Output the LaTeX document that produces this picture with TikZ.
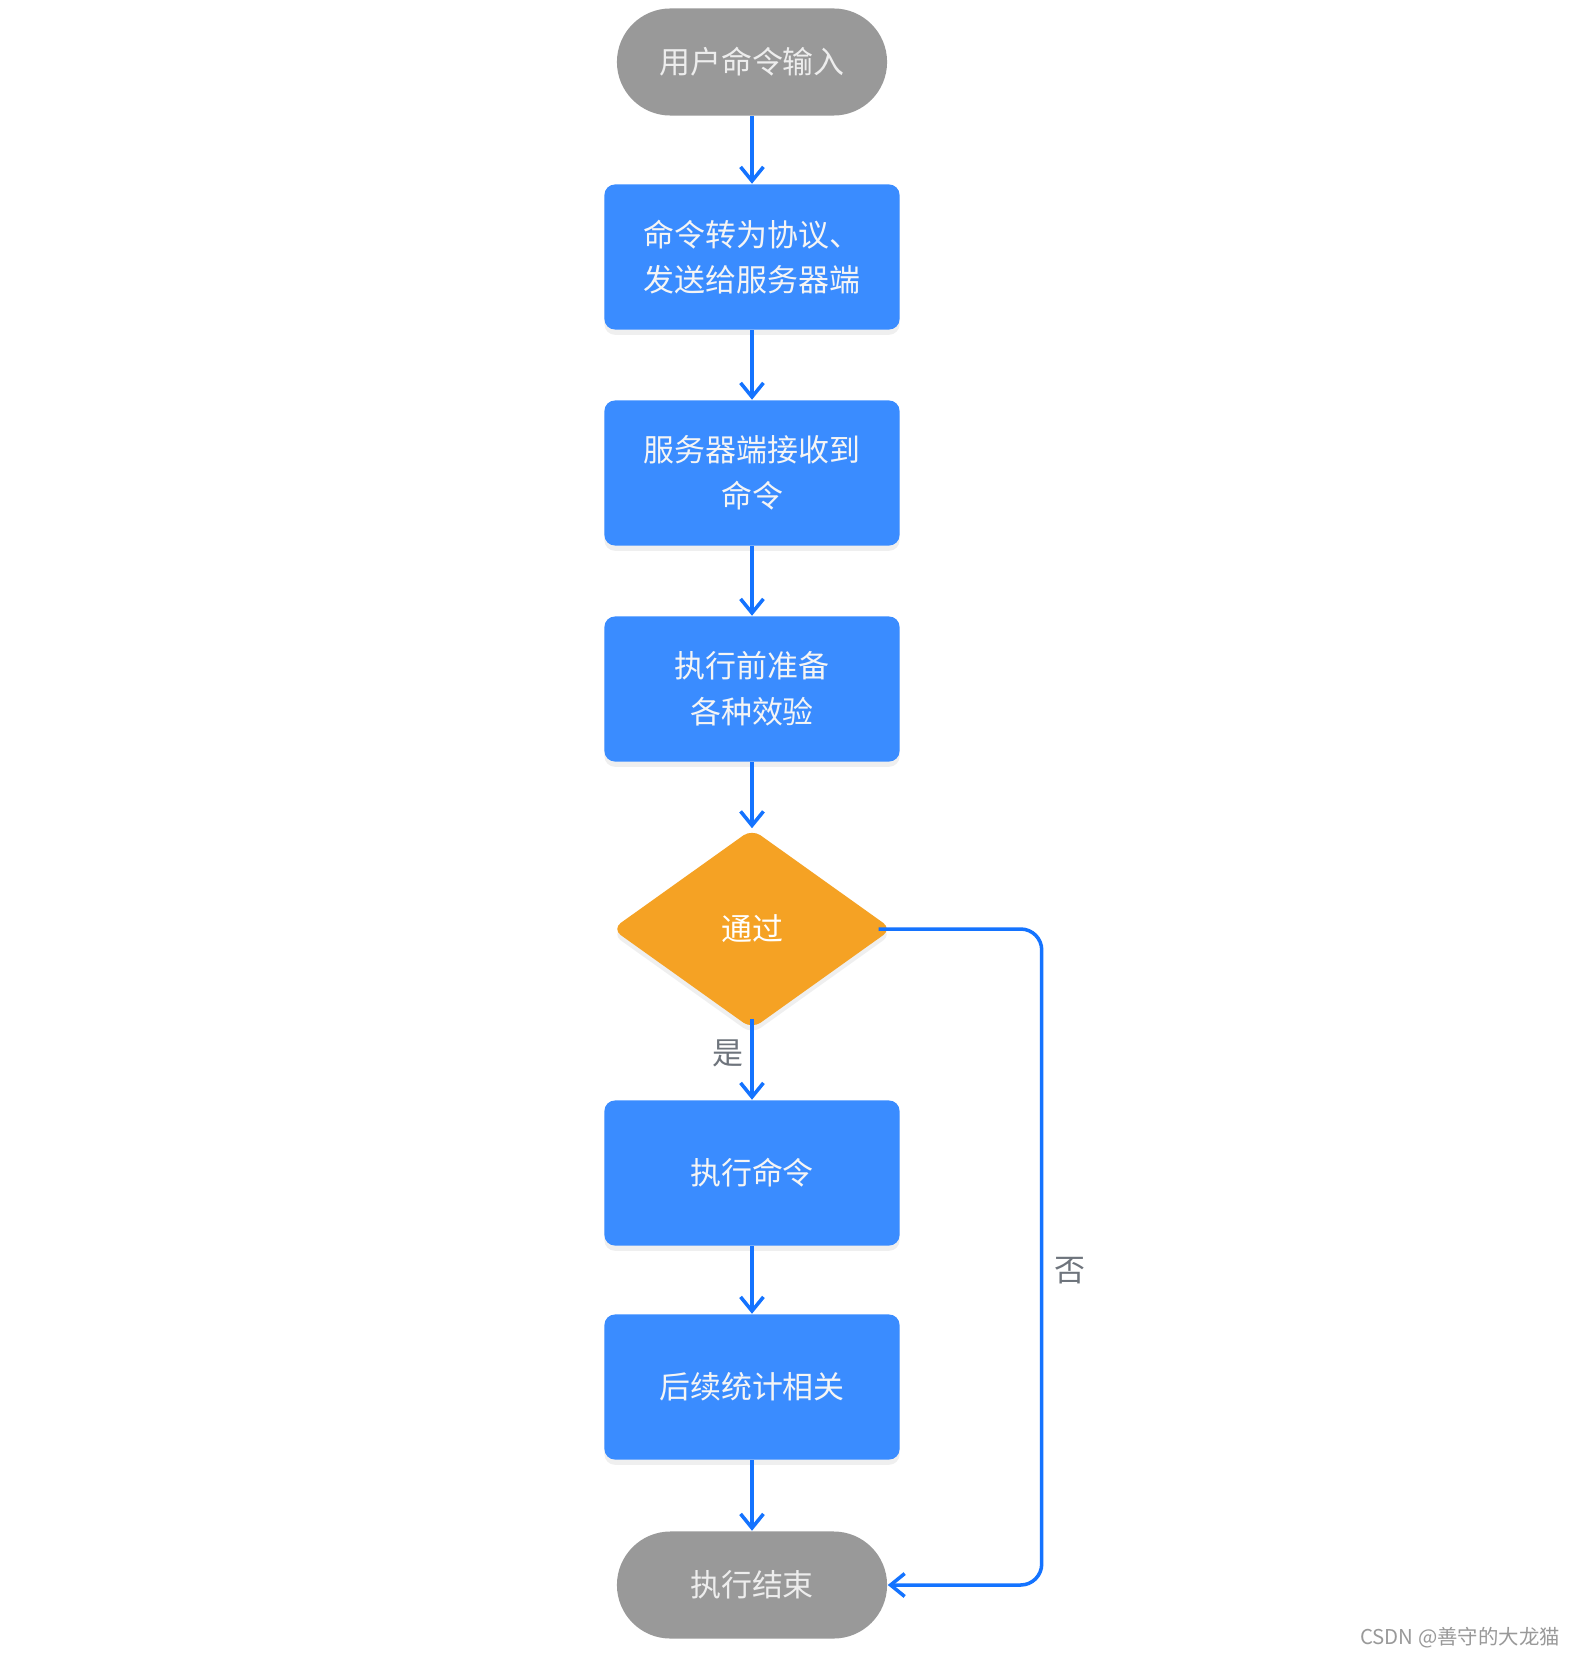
\documentclass[tikz,border=0pt]{standalone}
\usepackage{fontspec}
\setmainfont{Noto Sans CJK SC}
\usepackage{tikz}
\usetikzlibrary{arrows.meta,shapes.geometric,shadows}
\definecolor{flowblue}{HTML}{3A8CFF}
\definecolor{lineblue}{HTML}{1473FF}
\definecolor{passorange}{HTML}{F5A224}
\definecolor{termgray}{HTML}{999999}
\definecolor{labelgray}{HTML}{6E747C}
\tikzset{
  term/.style={fill=termgray, text=white!93!black, rounded corners=0.535cm,
    minimum width=2.7cm, minimum height=1.07cm},
  stepbox/.style={fill=flowblue, text=white!96!black, rounded corners=3pt,
    minimum width=2.95cm, minimum height=1.45cm, align=center,
    drop shadow={opacity=0.12, shadow xshift=0pt, shadow yshift=-1.5pt}},
  check/.style={diamond, fill=passorange, text=white, inner sep=0pt, aspect=1.38,
    minimum width=2.8cm, minimum height=2.0cm, rounded corners=3pt,
    drop shadow={opacity=0.12, shadow xshift=0pt, shadow yshift=-1.5pt}},
  flow/.style={draw=lineblue, line width=1pt, -{Straight Barb[length=4pt,width=6.5pt]}}
}
\begin{document}
\begin{tikzpicture}[x=0.01cm, y=-0.01cm, font=\fontsize{8.8pt}{13pt}\selectfont]
		\useasboundingbox[fill=white] (0,0) rectangle (1569,1658);
		% nodes, top to bottom
		\node[term] (start) at (752,62) {用户命令输入};
		\node[stepbox] (cmd) at (752,257) {命令转为协议、\\发送给服务器端};
		\node[stepbox] (recv) at (752,473) {服务器端接收到\\命令};
		\node[stepbox] (prep) at (752,689) {执行前准备\\各种效验};
		\node[check] (pass) at (752,929) {通过};
		\node[stepbox] (exec) at (752,1173) {执行命令};
		\node[stepbox] (stat) at (752,1387) {后续统计相关};
		\node[term] (stop) at (752,1585) {执行结束};
		% connectors
		\draw[flow] (start) -- (cmd);
		\draw[flow] (cmd) -- (recv);
		\draw[flow] (recv) -- (prep);
		\draw[flow] (prep) -- (pass);
		\draw[flow] ([yshift=3pt]pass.south) -- node[pos=0.42, left, text=labelgray, inner sep=2pt] {是} (exec);
		\draw[flow] (exec) -- (stat);
		\draw[flow] (stat) -- (stop);
		\draw[flow, rounded corners=6pt] ([xshift=-4pt]pass.east) -- ++(163,0) |- node[pos=0.26, right, text=labelgray, inner sep=3pt] {否} (stop.east);
		% watermark
		\node[text=termgray, font=\fontsize{5.8pt}{7pt}\selectfont] (mark) at (1460,1638) {CSDN @善守的大龙猫};
\end{tikzpicture}
\end{document}
